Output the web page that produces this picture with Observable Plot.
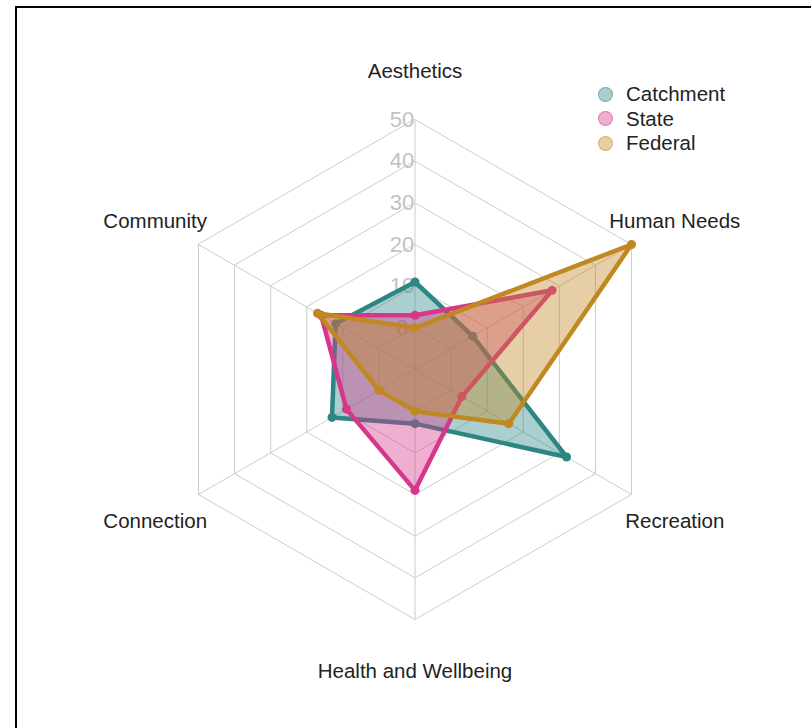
<!DOCTYPE html>
<html><head><meta charset="utf-8">
<script src="https://cdn.jsdelivr.net/npm/d3@7"></script>
<script src="https://cdn.jsdelivr.net/npm/@observablehq/plot@0.6"></script>
<style>
html,body{margin:0;padding:0;overflow:hidden;background:#fff;font-family:"Liberation Sans",Arial,sans-serif;}
#wrap{position:relative;width:811px;height:728px;overflow:hidden;}
#chart svg{display:block;}
#frame{position:absolute;left:15px;top:6px;width:900px;height:900px;border:2.5px solid #000;box-sizing:border-box;pointer-events:none;}
#legend{position:absolute;left:598px;top:82px;}
.item{display:flex;align-items:center;height:24.5px;font-size:20.5px;color:#222;line-height:1;}
.sw{width:15px;height:15px;border-radius:50%;margin-right:13px;box-sizing:border-box;}
</style></head>
<body><div id="wrap"><div id="chart"></div><div id="frame"></div><div id="legend"></div></div>
<script>
const axes = ["Aesthetics", "Human Needs", "Recreation", "Health and Wellbeing", "Connection", "Community"];
const seriesNames = ["Catchment", "State", "Federal"];
const catchment = [11, 6, 32, 3, 13, 12];
const state = [3, 28, 3, 19, 9, 16];
const federal = [0, 50, 16, 0, 0, 17];
const ticks = [0, 10, 20, 30, 40, 50];
const colors = ["#2e8684", "#d6368c", "#c08820"];

const vMin = 0, vMax = 50, segs = 5;
const rad = v => (1 + (v - vMin) / (vMax - vMin) * segs) / (segs + 1);
const ang = i => Math.PI / 2 - i * 2 * Math.PI / axes.length;
const seriesValues = [catchment, state, federal];

const rows = seriesNames.flatMap((s, si) => axes.map((a, i) => {
  const r = rad(seriesValues[si][i]);
  return {series: s, axis: a, value: seriesValues[si][i], x: r * Math.cos(ang(i)), y: r * Math.sin(ang(i))};
}));
const grid = ticks.flatMap(t => axes.map((a, i) => ({tick: t, x: rad(t) * Math.cos(ang(i)), y: rad(t) * Math.sin(ang(i))})));
const spokes = axes.map((a, i) => ({axis: a, x2: rad(vMax) * Math.cos(ang(i)), y2: rad(vMax) * Math.sin(ang(i))}));
const tickLabels = ticks.map(t => ({tick: t, x: 0, y: rad(t)}));
const axisLabels = axes.map((a, i) => ({axis: a, x: 1.2 * rad(vMax) * Math.cos(ang(i)), y: 1.2 * rad(vMax) * Math.sin(ang(i))}));

const seriesMarks = seriesNames.flatMap(s => {
  const d = rows.filter(r => r.series === s);
  return [
    Plot.area(d, {x1: "x", y1: "y", x2: 0, y2: 0, fill: "series", fillOpacity: 0.4, curve: "linear-closed"}),
    Plot.line(d, {x: "x", y: "y", stroke: "series", strokeWidth: 4.5, curve: "linear-closed", strokeLinejoin: "round"}),
    Plot.dot(d, {x: "x", y: "y", fill: "series", r: 4.5})
  ];
});

const cx = 414.5, cy = 369, unit = 250, W = 811, H = 728;
const chart = Plot.plot({
  width: W, height: H, margin: 0,
  style: {fontFamily: "Liberation Sans, Arial, sans-serif", background: "transparent"},
  x: {domain: [-cx / unit, (W - cx) / unit], axis: null},
  y: {domain: [-(H - cy) / unit, cy / unit], axis: null},
  color: {domain: seriesNames, range: colors},
  marks: [
    Plot.line(grid, {x: "x", y: "y", z: "tick", curve: "linear-closed", stroke: "#cccccc", strokeWidth: 1}),
    Plot.link(spokes, {x1: 0, y1: 0, x2: "x2", y2: "y2", stroke: "#cccccc", strokeWidth: 1}),
    Plot.text(tickLabels, {x: "x", y: "y", text: d => String(d.tick), dx: -13, fill: "#c2c2c2", fontSize: 22}),
    ...seriesMarks,
    Plot.text(axisLabels, {x: "x", y: "y", text: "axis", dy: 1.5, fill: "#222", fontSize: 20.5})
  ]
});
document.getElementById("chart").appendChild(chart);

const legend = document.getElementById("legend");
seriesNames.forEach((s, i) => {
  const c = d3.color(colors[i]);
  const f = c.copy({opacity: 0.4}), st = c.copy({opacity: 0.45});
  const item = document.createElement("div");
  item.className = "item";
  item.innerHTML = `<span class="sw" style="background:${f};border:1.5px solid ${st}"></span><span>${s}</span>`;
  legend.appendChild(item);
});
</script>
</body></html>
